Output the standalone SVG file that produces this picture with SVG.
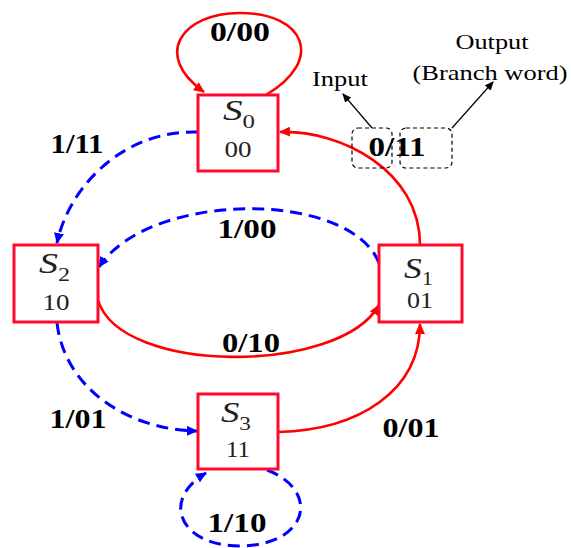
<svg xmlns="http://www.w3.org/2000/svg" width="571" height="548" viewBox="0 0 571 548">
<style>
.box{fill:#fff;stroke:#ff0a2e;stroke-width:3}
.red{fill:none;stroke:#ff0000;stroke-width:2.6}
.blue{fill:none;stroke:#0000ff;stroke-width:3;stroke-dasharray:12 7}
.thin{fill:none;stroke:#000;stroke-width:1.2}
.dbox{fill:none;stroke:#000;stroke-width:1.2;stroke-dasharray:4 3}
.lbl{font-family:"Liberation Serif",serif;font-weight:bold;font-size:27px;fill:#000;text-anchor:middle}
.st{font-family:"Liberation Serif",serif;font-size:30px;fill:#222}
.it{font-style:italic}
.sub{font-size:19px}
.code{font-family:"Liberation Serif",serif;font-size:24px;fill:#222;text-anchor:middle}
.note{font-family:"Liberation Serif",serif;font-size:22px;fill:#000;text-anchor:middle}
</style>
<defs>
<marker id="ar" markerUnits="userSpaceOnUse" markerWidth="11" markerHeight="10" refX="10" refY="5" orient="auto"><path d="M0,0 L11,5 L0,10 z" fill="#ff0000"/></marker>
<marker id="ab" markerUnits="userSpaceOnUse" markerWidth="11" markerHeight="10" refX="10" refY="5" orient="auto"><path d="M0,0 L11,5 L0,10 z" fill="#0000ff"/></marker>
<marker id="ak" markerUnits="userSpaceOnUse" markerWidth="9" markerHeight="8" refX="8" refY="4" orient="auto"><path d="M0,0 L9,4 L0,8 z" fill="#000"/></marker>
</defs>
<g id="connectors">
<path class="red" d="M266,95 C325,60 305,13 240,13 C182,13 152,55 204,92" marker-end="url(#ar)"/>
<path class="red" d="M420,245 C420,170 340,130 280,132" marker-end="url(#ar)"/>
<path class="red" d="M98,300 C120,375 340,375 379,305" marker-end="url(#ar)"/>
<path class="red" d="M278,432 C360,430 420,390 420,324" marker-end="url(#ar)"/>
<path class="blue" d="M198,132 C120,130 68,190 57,243" marker-end="url(#ab)"/>
<path class="blue" d="M379,263 C350,190 150,190 99,267" marker-end="url(#ab)"/>
<path class="blue" d="M57,323 C65,390 130,430 197,431" marker-end="url(#ab)"/>
<path class="blue" d="M267,470 C320,490 310,545 240,546 C180,546 160,500 206,473" marker-end="url(#ab)"/>
</g>
<g id="S0">
<rect class="box" x="198" y="95" width="80" height="76"/>
<text class="st" x="223" y="120" textLength="32" lengthAdjust="spacingAndGlyphs"><tspan class="it">S</tspan><tspan class="sub" dy="8">0</tspan></text>
<text class="code" x="238" y="157" textLength="27" lengthAdjust="spacingAndGlyphs">00</text>
</g>
<g id="S1">
<rect class="box" x="379" y="245" width="83" height="77"/>
<text class="st" x="404" y="278" textLength="29" lengthAdjust="spacingAndGlyphs"><tspan class="it">S</tspan><tspan class="sub" dy="7">1</tspan></text>
<text class="code" x="420" y="308" textLength="26" lengthAdjust="spacingAndGlyphs">01</text>
</g>
<g id="S2">
<rect class="box" x="14" y="245" width="84" height="77"/>
<text class="st" x="39" y="273" textLength="31" lengthAdjust="spacingAndGlyphs"><tspan class="it">S</tspan><tspan class="sub" dy="8">2</tspan></text>
<text class="code" x="56" y="310" textLength="27" lengthAdjust="spacingAndGlyphs">10</text>
</g>
<g id="S3">
<rect class="box" x="198" y="394" width="80" height="75"/>
<text class="st" x="221" y="422" textLength="30" lengthAdjust="spacingAndGlyphs"><tspan class="it">S</tspan><tspan class="sub" dy="8">3</tspan></text>
<text class="code" x="238" y="457" textLength="24" lengthAdjust="spacingAndGlyphs">11</text>
</g>
<g id="labels">
<text class="lbl" x="240" y="41" textLength="60" lengthAdjust="spacingAndGlyphs">0/00</text>
<text class="lbl" x="77" y="153" textLength="53" lengthAdjust="spacingAndGlyphs">1/11</text>
<text class="lbl" x="247" y="238" textLength="59" lengthAdjust="spacingAndGlyphs">1/00</text>
<text class="lbl" x="251" y="352" textLength="58" lengthAdjust="spacingAndGlyphs">0/10</text>
<text class="lbl" x="78" y="428" textLength="57" lengthAdjust="spacingAndGlyphs">1/01</text>
<text class="lbl" x="411" y="437" textLength="57" lengthAdjust="spacingAndGlyphs">0/01</text>
<text class="lbl" x="237" y="532" textLength="59" lengthAdjust="spacingAndGlyphs">1/10</text>
<text class="lbl" x="397" y="156" textLength="57" lengthAdjust="spacingAndGlyphs">0/11</text>
</g>
<g id="annotation">
<rect class="dbox" x="352" y="128" width="40" height="40" rx="6"/>
<rect class="dbox" x="400" y="128" width="52" height="40" rx="6"/>
<path class="thin" d="M372,128 L343,94" marker-end="url(#ak)"/>
<path class="thin" d="M452,128 L493,82" marker-end="url(#ak)"/>
<text class="note" x="340" y="86" textLength="56" lengthAdjust="spacingAndGlyphs">Input</text>
<text class="note" x="492" y="49" textLength="73" lengthAdjust="spacingAndGlyphs">Output</text>
<text class="note" x="490" y="80" textLength="155" lengthAdjust="spacingAndGlyphs">(Branch word)</text>
</g>
</svg>
